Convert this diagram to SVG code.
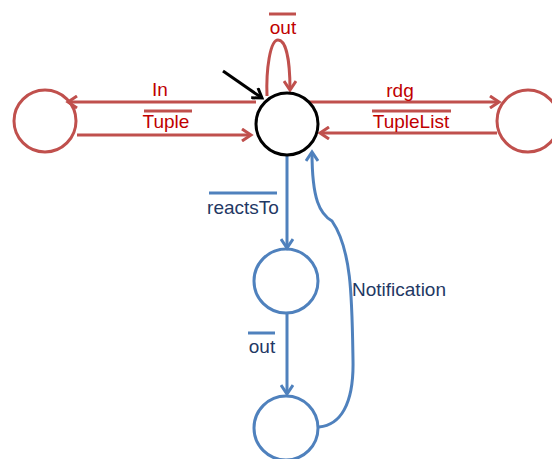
<svg xmlns="http://www.w3.org/2000/svg" width="552" height="459" viewBox="0 0 552 459">
<defs>
<style>
.red{stroke:#C0504D;stroke-width:3;fill:none}
.blue{stroke:#4F81BD;stroke-width:3;fill:none}
.rt{fill:#C00000;font-family:"Liberation Sans",Arial,sans-serif;font-size:19px}
.bt{fill:#1F3864;font-family:"Liberation Sans",Arial,sans-serif;font-size:19px}
.ol-r{stroke:#C0504D;stroke-width:3}
.ol-b{stroke:#4F81BD;stroke-width:3}
</style>
<marker id="ar" markerWidth="14" markerHeight="14" refX="11" refY="7" orient="auto" markerUnits="userSpaceOnUse"><path d="M2,1 L11,7 L2,13" fill="none" stroke="#C0504D" stroke-width="3"/></marker>
<marker id="ab" markerWidth="14" markerHeight="14" refX="11" refY="7" orient="auto" markerUnits="userSpaceOnUse"><path d="M2,1 L11,7 L2,13" fill="none" stroke="#4F81BD" stroke-width="3"/></marker>
<marker id="ak" markerWidth="14" markerHeight="14" refX="11" refY="7" orient="auto" markerUnits="userSpaceOnUse"><path d="M2,1 L11,7 L2,13" fill="none" stroke="#000" stroke-width="3"/></marker>
</defs>
<g id="connectors">
<line class="red" x1="256" y1="102" x2="68" y2="102" marker-end="url(#ar)"/>
<line class="red" x1="77" y1="135" x2="251" y2="135" marker-end="url(#ar)"/>
<line class="red" x1="309" y1="102" x2="499" y2="102" marker-end="url(#ar)"/>
<line class="red" x1="497" y1="133" x2="320" y2="133" marker-end="url(#ar)"/>
<path class="red" d="M267,96 C266,70 270,40 278,40 C286,40 290,60 290,90" marker-end="url(#ar)"/>
<line x1="223" y1="71" x2="262" y2="98" stroke="#000" stroke-width="3" marker-end="url(#ak)"/>
<line class="blue" x1="287" y1="156" x2="287" y2="248" marker-end="url(#ab)"/>
<line class="blue" x1="287" y1="313" x2="287" y2="394" marker-end="url(#ab)"/>
<path class="blue" d="M319,427 C340,425 354,405 353,360 C352,300 352,250 332,221 C320,214 312,200 312,152" marker-end="url(#ab)"/>
</g>
<g id="labels">
<text class="rt" x="160" y="96" text-anchor="middle">In</text>
<line class="ol-r" x1="144" y1="111" x2="192" y2="111"/>
<text class="rt" x="166" y="128" text-anchor="middle">Tuple</text>
<text class="rt" x="400" y="97" text-anchor="middle">rdg</text>
<line class="ol-r" x1="372" y1="111" x2="451" y2="111"/>
<text class="rt" x="411" y="128" text-anchor="middle">TupleList</text>
<line class="ol-r" x1="269" y1="14" x2="296" y2="14"/>
<text class="rt" x="283" y="34" text-anchor="middle">out</text>
<line class="ol-b" x1="209" y1="193" x2="277" y2="193"/>
<text class="bt" x="243" y="214" text-anchor="middle">reactsTo</text>
<line class="ol-b" x1="248" y1="333" x2="275" y2="333"/>
<text class="bt" x="262" y="353" text-anchor="middle">out</text>
<text class="bt" x="352" y="296">Notification</text>
</g>
<g id="node-center"><circle cx="287" cy="124" r="31" fill="#fff" stroke="#000" stroke-width="3"/></g>
<g id="node-left"><circle cx="45" cy="121" r="31" fill="#fff" class="red"/></g>
<g id="node-right"><circle cx="528" cy="121" r="31" fill="#fff" class="red"/></g>
<g id="node-mid"><circle cx="286" cy="281" r="32" fill="#fff" class="blue"/></g>
<g id="node-bottom"><circle cx="286" cy="428" r="32" fill="#fff" class="blue"/></g>
</svg>
